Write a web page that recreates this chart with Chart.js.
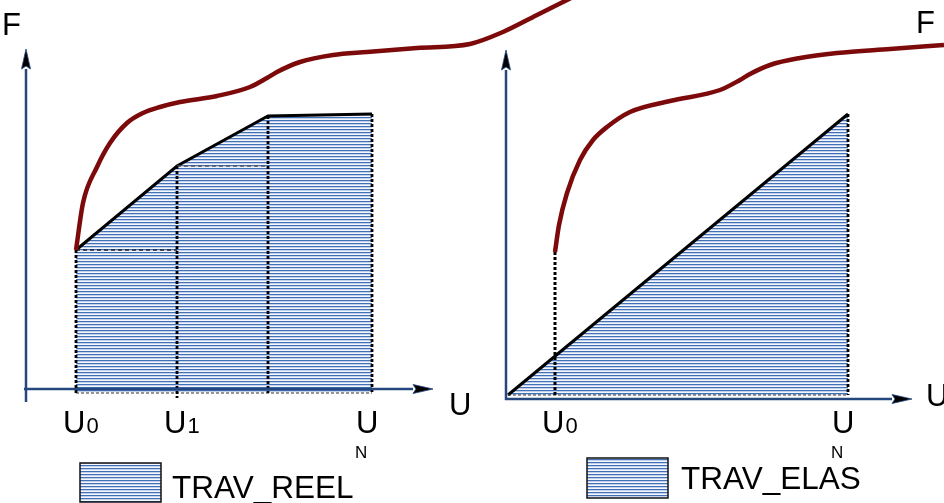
<!DOCTYPE html>
<html lang="fr">
<head>
  <meta charset="UTF-8">
  <title>TRAV_REEL / TRAV_ELAS</title>
  <script src="https://cdn.jsdelivr.net/npm/chart.js"></script>
  <style>
    * { margin: 0; padding: 0; box-sizing: border-box; }
    body { background: #fff; width: 944px; height: 503px; overflow: hidden; }
    #wrap { position: relative; width: 944px; height: 503px; }
  </style>
</head>
<body>
  <div id="wrap"><canvas id="diag" width="944" height="503"></canvas></div>

  <script>
    // all values are in picture units (U to the right, F downwards from the top)

    // left panel : real work, step by step
    const reelU = [76, 177, 268, 372];
    const reelF = [250, 166, 116, 114];
    const reelBase = 393;

    // right panel : elastic work
    const elasU = [508, 848];
    const elasF = [395, 114];
    const elasBase = 395;
    const elasU0 = 555;
    const elasU0F = 252;

    // red F(U) curves
    const curveLU = [76, 83, 97, 110, 127, 143, 160, 180, 217, 250, 267, 277, 300, 333, 367, 417, 470, 503, 537, 575];
    const curveLF = [250, 203, 167, 143, 123, 113, 107, 102, 96, 87, 78, 72, 62, 55, 52, 48, 44, 32, 15, -4];
    const curveRU = [555, 559, 567, 580, 593, 607, 630, 670, 720, 740, 750, 770, 800, 837, 890, 944];
    const curveRF = [252, 225, 193, 160, 140, 127, 112, 101, 90, 80, 74, 65, 58, 53, 49, 45];

    // axes : [start, end of shaft]
    const axisLeftU = [26, 26, 24, 413];
    const axisLeftF = [402, 69, 389, 389];
    const axisRightU = [506, 506, 505, 892];
    const axisRightF = [400, 70, 399, 399];

    // tick labels
    const ticksLeft = [76, 177, 372];
    const subsLeft = ['0', '1', 'N'];
    const ticksRight = [555, 848];
    const subsRight = ['0', 'N'];

    const legendNames = ['TRAV_REEL', 'TRAV_ELAS'];

    const FONT = '"Liberation Sans", Arial, sans-serif';
    const AXIS_BLUE = '#24487e';
    const RED = '#7d0a0a';

    // hatch pattern of the shaded areas
    const pc = document.createElement('canvas');
    pc.width = 4; pc.height = 3;
    const pctx = pc.getContext('2d');
    pctx.fillStyle = '#f3f6fb';
    pctx.fillRect(0, 0, 4, 3);
    pctx.fillStyle = '#c3d1ea';
    pctx.fillRect(0, 1, 4, 1);
    pctx.fillStyle = '#4270b6';
    pctx.fillRect(0, 0, 4, 1);
    const hatch = pctx.createPattern(pc, 'repeat');

    // arrow head, centre of the image = base of the head
    const arrow = document.createElement('canvas');
    arrow.width = 10; arrow.height = 40;
    const actx = arrow.getContext('2d');
    actx.beginPath();
    actx.moveTo(5, 0);
    actx.lineTo(9.5, 20);
    actx.lineTo(5, 17);
    actx.lineTo(0.5, 20);
    actx.closePath();
    actx.fillStyle = '#000';
    actx.fill();
    actx.strokeStyle = AXIS_BLUE;
    actx.lineWidth = 0.8;
    actx.stroke();

    const pts = (xs, ys) => xs.map((x, i) => ({ x, y: ys[i] }));
    const seg = (x1, y1, x2, y2) => [{ x: x1, y: y1 }, { x: x2, y: y2 }];

    function axisSet(us, fs, rot) {
      return {
        data: seg(us[0], fs[0], us[1], fs[1]),
        borderColor: AXIS_BLUE,
        borderWidth: 2.5,
        showLine: true,
        pointRadius: [0, 5],
        pointStyle: arrow,
        pointRotation: rot,
        order: 0
      };
    }

    function dashed(data, width, dash, color) {
      return {
        data,
        borderColor: color || '#000',
        borderWidth: width,
        borderDash: dash,
        showLine: true,
        pointRadius: 0,
        order: 1.5
      };
    }

    const datasets = [];

    // shaded areas
    datasets.push({
      data: pts(reelU, reelF),
      showLine: true,
      borderColor: '#000',
      borderWidth: 3,
      backgroundColor: hatch,
      fill: { value: reelBase },
      pointRadius: 0,
      order: 2
    });
    datasets.push({
      data: pts(elasU, elasF),
      showLine: true,
      borderColor: '#000',
      borderWidth: 3,
      backgroundColor: hatch,
      fill: { value: elasBase },
      pointRadius: 0,
      order: 2
    });

    // dotted construction lines, left
    reelU.forEach((u, i) => {
      const bottom = i === 1 ? 398 : reelBase;
      datasets.push(dashed(seg(u, reelF[i], u, bottom), 2.8, [3, 2]));
    });
    datasets.push(dashed(seg(reelU[0], reelF[0], reelU[1], reelF[0]), 1.3, [4, 3], '#222'));
    datasets.push(dashed(seg(reelU[1], reelF[1], reelU[2], reelF[1]), 1.3, [4, 3], '#555'));
    datasets.push(dashed(seg(reelU[0], reelBase, reelU[3], reelBase), 1.2, [3, 2], '#333'));

    // dotted construction lines, right
    datasets.push(dashed(seg(elasU0, elasU0F, elasU0, elasBase), 3, [3, 2]));
    datasets.push(dashed(seg(elasU[1], elasF[1], elasU[1], elasBase), 2.8, [3, 2]));
    datasets.push(dashed(seg(elasU[0], elasBase, elasU[1], elasBase), 1.2, [3, 2], '#333'));

    // red curves
    [[curveLU, curveLF], [curveRU, curveRF]].forEach(([u, f]) => {
      datasets.push({
        data: pts(u, f),
        showLine: true,
        borderColor: RED,
        borderWidth: 4.5,
        cubicInterpolationMode: 'monotone',
        pointRadius: 0,
        order: 1
      });
    });

    // axes
    datasets.push(axisSet(axisLeftU.slice(0, 2), axisLeftF.slice(0, 2), 0));
    datasets.push(axisSet(axisLeftU.slice(2), axisLeftF.slice(2), 90));
    datasets.push(axisSet(axisRightU.slice(0, 2), axisRightF.slice(0, 2), 0));
    datasets.push(axisSet(axisRightU.slice(2), axisRightF.slice(2), 90));

    // text and legend layout
    const titles = [
      { t: 'F', x: 2, y: 35 }, { t: 'U', x: 449, y: 415 },
      { t: 'F', x: 916, y: 33 }, { t: 'U', x: 926, y: 406 }
    ];
    const legendBoxes = [
      { x: 80, y: 463, w: 81, h: 39, tx: 172, ty: 498 },
      { x: 587, y: 458, w: 81, h: 40, tx: 681, ty: 489 }
    ];

    const textPlugin = {
      id: 'texts',
      afterDatasetsDraw(chart) {
        const { ctx, scales: { x, y } } = chart;
        ctx.save();
        ctx.fillStyle = '#000';
        ctx.textBaseline = 'alphabetic';
        ctx.textAlign = 'left';

        ctx.font = '31px ' + FONT;
        titles.forEach(o => ctx.fillText(o.t, x.getPixelForValue(o.x), y.getPixelForValue(o.y)));

        const tickLabel = (u, sub) => {
          const px = x.getPixelForValue(u);
          const py = y.getPixelForValue(433);
          ctx.font = '31px ' + FONT;
          if (sub === 'N') {
            ctx.fillText('U', px - 16, py);
            ctx.font = '17px ' + FONT;
            ctx.fillText('N', px - 17, py + 25);
          } else {
            ctx.fillText('U', px - 13, py);
            const w = ctx.measureText('U').width;
            ctx.font = '22px ' + FONT;
            ctx.fillText(sub, px - 13 + w + 1, py);
          }
        };
        ticksLeft.forEach((u, i) => tickLabel(u, subsLeft[i]));
        ticksRight.forEach((u, i) => tickLabel(u, subsRight[i]));

        legendBoxes.forEach((b, i) => {
          const bx = x.getPixelForValue(b.x), by = y.getPixelForValue(b.y);
          ctx.fillStyle = hatch;
          ctx.fillRect(bx, by, b.w, b.h);
          ctx.strokeStyle = '#111';
          ctx.lineWidth = 1.5;
          ctx.strokeRect(bx, by, b.w, b.h);
          ctx.fillStyle = '#000';
          ctx.font = '31.5px ' + FONT;
          ctx.fillText(legendNames[i], x.getPixelForValue(b.tx), y.getPixelForValue(b.ty));
        });
        ctx.restore();
      }
    };

    new Chart(document.getElementById('diag'), {
      type: 'scatter',
      data: { datasets },
      options: {
        responsive: false,
        animation: false,
        events: [],
        layout: { padding: 0, autoPadding: false },
        scales: {
          x: { type: 'linear', min: 0, max: 944, display: false },
          y: { type: 'linear', min: 0, max: 503, reverse: true, display: false }
        },
        plugins: {
          legend: { display: false },
          tooltip: { enabled: false }
        }
      },
      plugins: [textPlugin]
    });
  </script>
</body>
</html>
